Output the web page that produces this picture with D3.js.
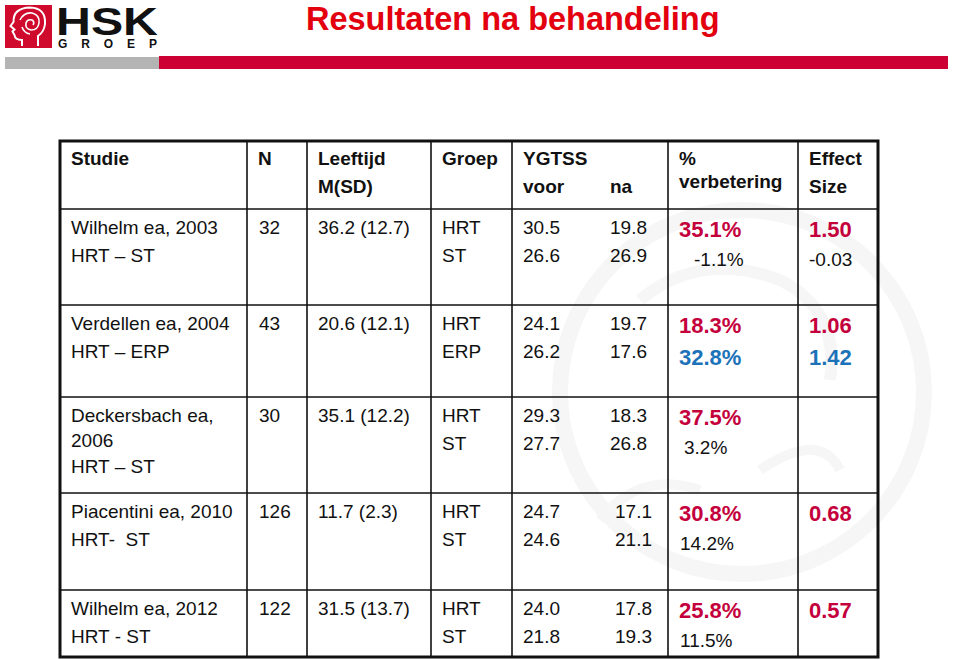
<!DOCTYPE html>
<html>
<head>
<meta charset="utf-8">
<script src="https://cdn.jsdelivr.net/npm/d3@7"></script>
<style>
  html, body { margin: 0; padding: 0; background: #fff; }
  svg { display: block; font-family: "Liberation Sans", Arial, sans-serif; }
  text { white-space: pre; }
</style>
</head>
<body>
<svg id="slide" width="960" height="660"></svg>
<script>
// table content
const headers = [["Studie"], ["N"], ["Leeftijd", "M(SD)"], ["Groep"], ["YGTSS", "voor"], ["%", "verbetering"], ["Effect", "Size"]];
const studies = [["Wilhelm ea, 2003"], ["Verdellen ea, 2004"], ["Deckersbach ea,", "2006"], ["Piacentini ea, 2010"], ["Wilhelm ea, 2012"]];
const comparisons = ["HRT – ST", "HRT – ERP", "HRT – ST", "HRT-  ST", "HRT - ST"];
const nValues = [32, 43, 30, 126, 122];
const ageMean = [36.2, 20.6, 35.1, 11.7, 31.5];
const ageSD = [12.7, 12.1, 12.2, 2.3, 13.7];
const groups = [["HRT", "ST"], ["HRT", "ERP"], ["HRT", "ST"], ["HRT", "ST"], ["HRT", "ST"]];
const ygtssVoor = [[30.5, 26.6], [24.1, 26.2], [29.3, 27.7], [24.7, 24.6], [24.0, 21.8]];
const ygtssNa = [[19.8, 26.9], [19.7, 17.6], [18.3, 26.8], [17.1, 21.1], [17.8, 19.3]];
const improvement = [[35.1, -1.1], [18.3, 32.8], [37.5, 3.2], [30.8, 14.2], [25.8, 11.5]];
const effectSize = [[1.50, -0.03], [1.06, 1.42], [null, null], [0.68, null], [0.57, null]];

// layout
const colEdges = [60, 247, 307, 431, 512, 668, 798, 878];
const rowEdges = [141, 209, 305, 397, 493, 590, 657];
const naX = [610, 610, 610, 615, 615];
const pctIndent = [[0, 15], [0, 0], [0, 5], [0, 1], [0, 1]];

const RED = "#c4003c", BLUE = "#1b72b8", TITLE_RED = "#e3000f";
// groups that were the active treatment get highlighted
const groupStyle = { HRT: RED, ERP: BLUE };

const locale = d3.formatLocale({ decimal: ".", thousands: ",", grouping: [3], currency: ["", ""], minus: "-" });
const f1 = locale.format(".1f"), f2 = locale.format(".2f");

var svg = d3.select("#slide");

// faint watermark behind the table
var wm = svg.append("g").attr("fill", "none").attr("stroke", "#f6f6f6");
wm.append("circle").attr("cx", 742).attr("cy", 392).attr("r", 182).attr("stroke-width", 16);
wm.append("path").attr("d", "M640,300 Q700,250 780,280 Q840,310 830,380").attr("stroke-width", 12);
wm.append("path").attr("d", "M600,520 Q640,470 700,490 M760,470 Q820,430 840,470").attr("stroke-width", 10);

// logo
var logo = svg.append("g");
logo.append("rect").attr("x", 5).attr("y", 5).attr("width", 47).attr("height", 43).attr("fill", "#cf0a2c");
logo.append("path")
    .attr("d", "M22,46 L22,40 Q15,40 14.5,35 L12.5,31.5 L14.5,29.5 L10.5,26 L13.5,22 Q13,8 30,7.5 Q46,8 45,24 Q44,32 38,36 L38,46")
    .attr("fill", "none").attr("stroke", "#fff").attr("stroke-width", 2);
logo.append("path")
    .attr("d", "M20,20 Q24,12 32,13 Q40,15 39,23 Q38,30 31,30 Q25,29 26,23 Q27,19 32,20 Q35,22 33,25 M22,27 Q24,33 30,34")
    .attr("fill", "none").attr("stroke", "#fff").attr("stroke-width", 1.6);
logo.append("text").attr("x", 56).attr("y", 35).attr("font-size", 39).attr("font-weight", "bold")
    .attr("textLength", 102).attr("lengthAdjust", "spacingAndGlyphs").attr("fill", "#111").text("HSK");
logo.append("text").attr("x", 58).attr("y", 48).attr("font-size", 12).attr("font-weight", "bold")
    .attr("textLength", 99).attr("lengthAdjust", "spacing").attr("fill", "#111").text("GROEP");

// bars under header
svg.append("rect").attr("x", 5).attr("y", 57).attr("width", 154).attr("height", 12).attr("fill", "#b4b4b4");
svg.append("rect").attr("x", 159).attr("y", 56).attr("width", 789).attr("height", 13).attr("fill", "#cc0033");

// title
svg.append("text").attr("x", 306).attr("y", 30).attr("font-size", 32.5).attr("font-weight", "bold")
    .attr("fill", TITLE_RED).text("Resultaten na behandeling");

// scales for the grid
var colX = d3.scaleOrdinal().domain(d3.range(colEdges.length)).range(colEdges);
var rowY = d3.scaleOrdinal().domain(d3.range(rowEdges.length)).range(rowEdges);
const PAD = 11;

var grid = svg.append("g").attr("stroke", "#111");
grid.selectAll("line.h").data(d3.range(1, rowEdges.length - 1)).enter().append("line")
    .attr("x1", colX(0)).attr("x2", colX(colEdges.length - 1))
    .attr("y1", function (d) { return rowY(d); }).attr("y2", function (d) { return rowY(d); })
    .attr("stroke-width", 1.6);
grid.selectAll("line.v").data(d3.range(1, colEdges.length - 1)).enter().append("line")
    .attr("y1", rowY(0)).attr("y2", rowY(rowEdges.length - 1))
    .attr("x1", function (d) { return colX(d); }).attr("x2", function (d) { return colX(d); })
    .attr("stroke-width", 1.6);
grid.append("rect")
    .attr("x", colX(0)).attr("y", rowY(0))
    .attr("width", colX(colEdges.length - 1) - colX(0))
    .attr("height", rowY(rowEdges.length - 1) - rowY(0))
    .attr("fill", "none").attr("stroke-width", 3);

function put(x, y, str, opts) {
    opts = opts || {};
    return svg.append("text").attr("x", x).attr("y", y)
        .attr("font-size", opts.size || 19)
        .attr("font-weight", opts.bold ? "bold" : "normal")
        .attr("fill", opts.color || "#111")
        .text(str);
}

// header row
headers.forEach(function (lines, c) {
    var y0 = rowY(0) + 23.5;
    lines.forEach(function (s, i) {
        var y = y0 + i * 28;
        if (c === 5 && i === 1) y = y0 + 23.5;
        put(colX(c) + PAD, y, s, { bold: true });
    });
});
put(naX[0], rowY(0) + 23.5 + 28, "na", { bold: true });

// body rows
studies.forEach(function (lines, r) {
    var top = rowY(r + 1);
    var b1 = top + 24.5, b2 = b1 + 28.5;

    lines.forEach(function (s, i) { put(colX(0) + PAD, b1 + i * 25, s); });
    var compY = lines.length > 1 ? b1 + (lines.length - 1) * 25 + 26 : b2;
    put(colX(0) + PAD, compY, comparisons[r]);

    put(colX(1) + PAD + 1, b1, String(nValues[r]));
    put(colX(2) + PAD, b1, f1(ageMean[r]) + " (" + f1(ageSD[r]) + ")");

    groups[r].forEach(function (g, i) {
        var by = i === 0 ? b1 : b2;
        put(colX(3) + PAD, by, g);
        put(colX(4) + PAD, by, f1(ygtssVoor[r][i]));
        put(naX[r], by, f1(ygtssNa[r][i]));

        var col = groupStyle[g];
        var vy = i === 0 ? b1 + 3.5 : (col ? b1 + 35 : b1 + 32);
        var opts = col ? { bold: true, size: 22, color: col } : {};
        put(colX(5) + PAD + pctIndent[r][i], vy, f1(improvement[r][i]) + "%", opts);
        if (effectSize[r][i] !== null) {
            put(colX(6) + PAD, vy, f2(effectSize[r][i]), opts);
        }
    });
});
</script>
</body>
</html>
